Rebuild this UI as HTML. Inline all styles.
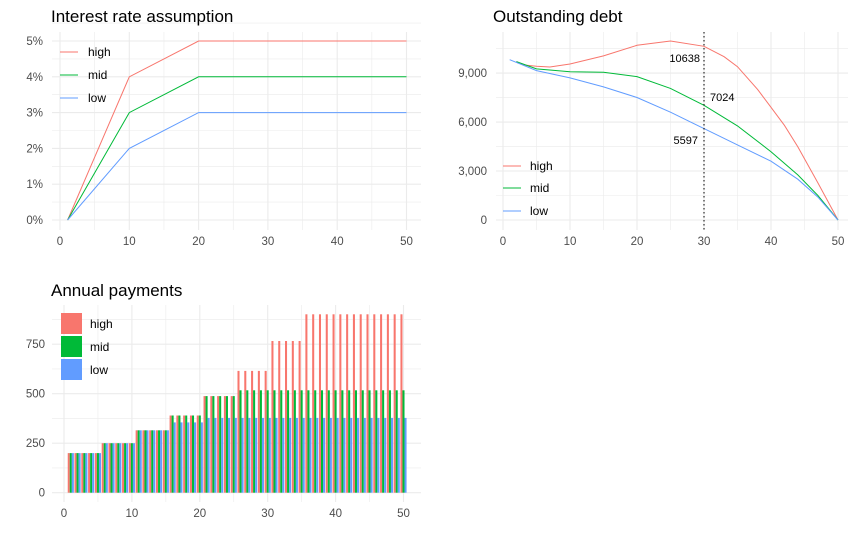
<!DOCTYPE html>
<html><head><meta charset="utf-8"><style>
body{margin:0;background:#fff}
svg{display:block;font-family:"Liberation Sans",Arial,sans-serif}
</style></head><body>
<svg id="s" width="862" height="546" xmlns="http://www.w3.org/2000/svg"></svg>
<script>
const s=document.getElementById('s');let h='';
const R='#F8766D',G='#00BA38',B='#619CFF';
function grid(x0,x1,y0,y1,X,ys,yl,fmt,labx){
 for(let v=0;v<=50;v+=5){const x=X(v);h+=`<line x1="${x}" x2="${x}" y1="${y0}" y2="${y1}" stroke="#ebebeb" stroke-width="${v%10?0.6:1.1}"/>`;}
 ys.forEach((yv,i)=>{h+=`<line x1="${x0}" x2="${x1}" y1="${yv}" y2="${yv}" stroke="#ebebeb" stroke-width="${yl[i]===null?0.6:1.1}"/>`;
  if(yl[i]!==null)h+=`<text x="${labx}" y="${yv+4}" font-size="11.5" fill="#4d4d4d" text-anchor="end">${yl[i]}</text>`;});
 for(let v=0;v<=50;v+=10)h+=`<text x="${X(v)}" y="${y1+15}" font-size="11.5" fill="#4d4d4d" text-anchor="middle">${v}</text>`;
}
function path(pts,X,Y,c){h+=`<polyline fill="none" stroke="${c}" stroke-width="1" points="${pts.map(p=>X(p[0]).toFixed(1)+','+Y(p[1]).toFixed(1)).join(' ')}"/>`;}
// Panel 1
{const X=v=>60+v*6.93,Y=v=>220-v*35.8;
 const ys=[],yl=[];for(let i=0;i<=11;i++){ys.push(Y(i/2));yl.push(i%2?null:(i/2)+'%');}
 grid(52,421,32,230,X,ys,yl,null,43);
 path([[1.1,0],[10,4],[20,5],[50,5]],X,Y,R);path([[1.1,0],[10,3],[20,4],[50,4]],X,Y,G);path([[1.1,0],[10,2],[20,3],[50,3]],X,Y,B);
 h+=`<text x="51" y="22" font-size="17" fill="#000">Interest rate assumption</text>`;
 [[R,'high',52],[G,'mid',75],[B,'low',98]].forEach(a=>{h+=`<line x1="60" x2="78" y1="${a[2]}" y2="${a[2]}" stroke="${a[0]}"/><text x="88" y="${a[2]+4}" font-size="12">${a[1]}</text>`;});
}
// Panel 2
{const X=v=>503+v*6.7,Y=v=>220-v*0.01633;
 const ys=[],yl=[];for(let i=0;i<=7;i++){ys.push(Y(i*1500));yl.push(i%2?null:(i*1500).toLocaleString('en-US'));}
 grid(496,848,32,230,X,ys,yl,null,487);
 path([[2,9700],[3,9500],[5,9420],[7,9370],[10,9550],[15,10050],[20,10700],[25,10960],[30,10638],[33,10000],[35,9390],[38,8000],[40,6900],[42,5800],[44,4490],[47,2270],[50,0]],X,Y,R);
 path([[2,9700],[5,9250],[10,9080],[15,9050],[20,8780],[25,8060],[30,7024],[35,5760],[40,4180],[44,2760],[47,1500],[50,0]],X,Y,G);
 path([[1,9816],[5,9150],[10,8700],[15,8150],[20,7500],[25,6600],[30,5597],[35,4600],[40,3600],[44,2500],[47,1400],[50,0]],X,Y,B);
 h+=`<line x1="${X(30)}" x2="${X(30)}" y1="32" y2="230" stroke="#000" stroke-dasharray="1.5,2.5"/>`;
 h+=`<text x="700" y="62" font-size="11" text-anchor="end">10638</text><text x="710" y="101" font-size="11">7024</text><text x="698" y="144" font-size="11" text-anchor="end">5597</text>`;
 h+=`<text x="493" y="22" font-size="17" fill="#000">Outstanding debt</text>`;
 [[R,'high',166],[G,'mid',188],[B,'low',211]].forEach(a=>{h+=`<line x1="503" x2="521" y1="${a[2]}" y2="${a[2]}" stroke="${a[0]}"/><text x="530" y="${a[2]+4}" font-size="12">${a[1]}</text>`;});
}
// Panel 3
{const X=v=>64+v*6.79,Y=v=>492.7-v*0.198;
 const ys=[],yl=[];for(let i=0;i<=7;i++){ys.push(Y(i*125));yl.push(i%2?null:i*125);}
 grid(52,421,305,502,X,ys,yl,null,45);
 function val(y){if(y<=5)return[200,200,200];if(y<=10)return[250,250,250];if(y<=15)return[315,315,315];
  if(y<=20)return[390,390,355];if(y<=25)return[488,488,378];if(y<=30)return[615,517,378];if(y<=35)return[766,517,378];return[901,517,378];}
 const w=0.3*6.79;
 for(let y=1;y<=50;y++){const v=val(y);[R,G,B].forEach((c,i)=>{const x=X(y-0.45+i*0.3);h+=`<rect x="${x.toFixed(2)}" y="${Y(v[i]).toFixed(1)}" width="${w.toFixed(2)}" height="${(v[i]*0.198).toFixed(1)}" fill="${c}"/>`;});}
 h+=`<text x="51" y="296" font-size="17" fill="#000">Annual payments</text>`;
 [[R,'high',313],[G,'mid',336],[B,'low',359]].forEach(a=>{h+=`<rect x="61" y="${a[2]}" width="21" height="21" fill="${a[0]}"/><text x="90" y="${a[2]+15}" font-size="12">${a[1]}</text>`;});
}
s.innerHTML=h;
</script>
</body></html>
